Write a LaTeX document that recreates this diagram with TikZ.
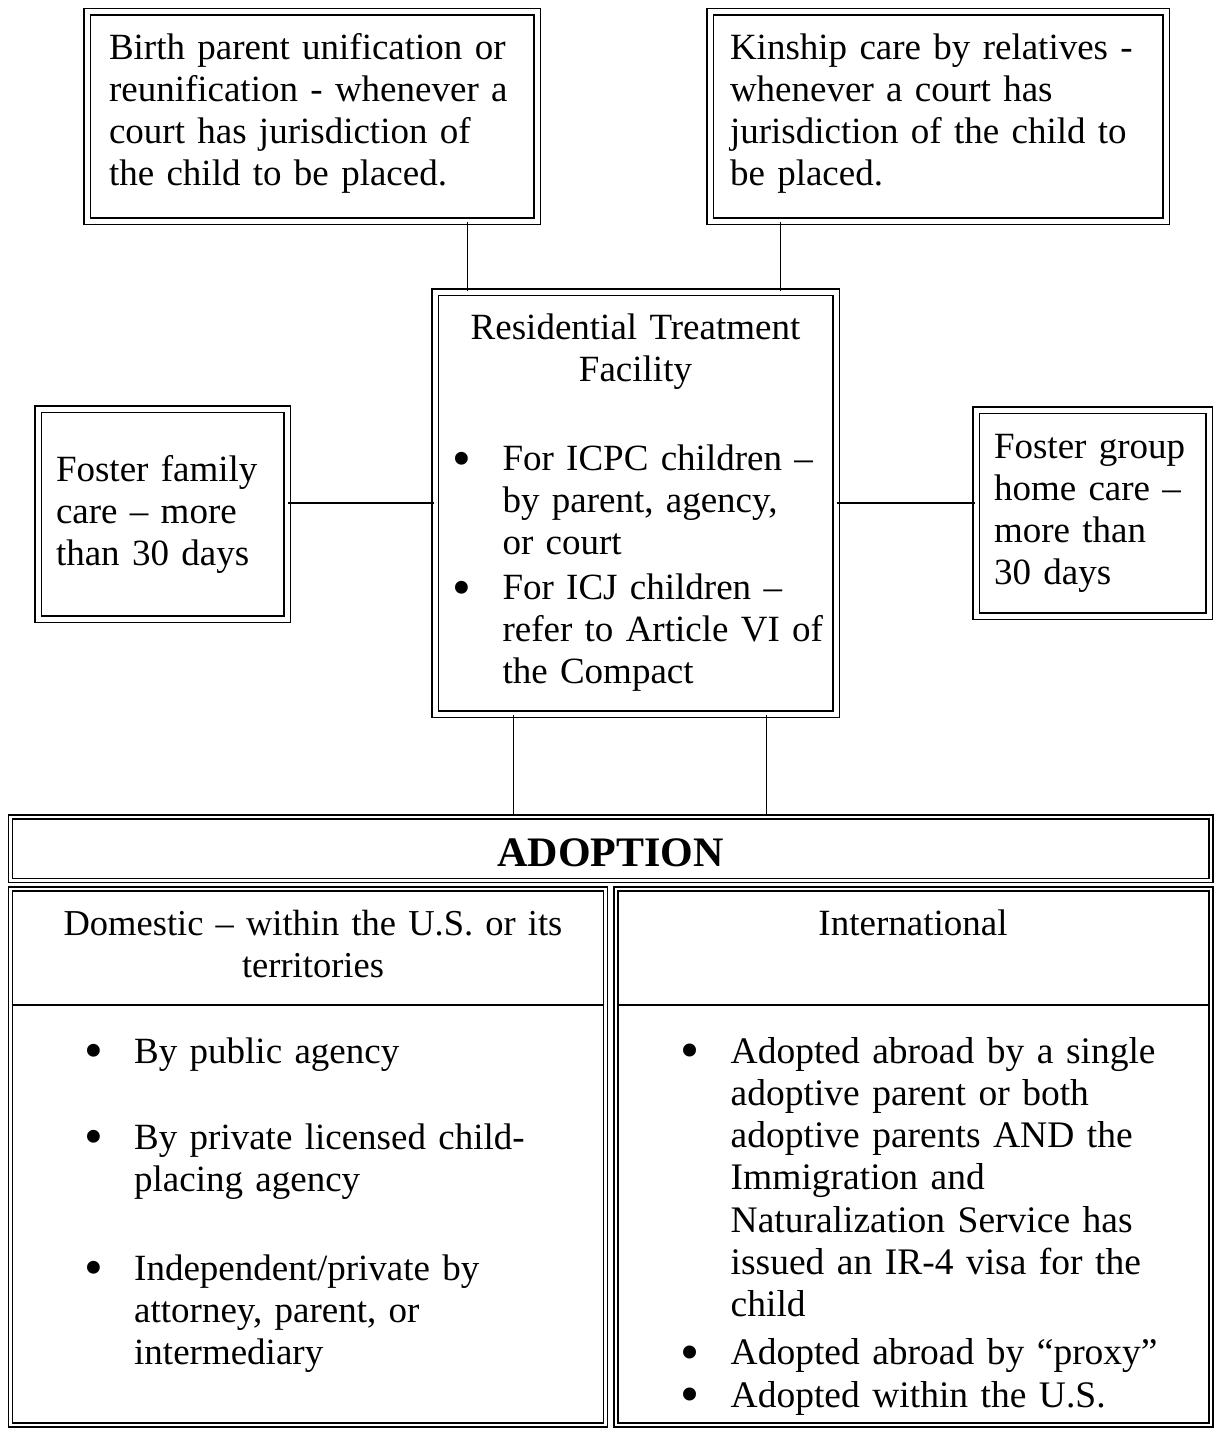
\documentclass[tikz,border=0pt]{standalone}
\usepackage{fontspec}
\setmainfont{Liberation Serif}
\usepackage{tikz}

% bullet and hanging indent for listed items
\newcommand{\bul}[1][0pt]{\hspace*{#1}\makebox[47pt][l]{\makebox[13pt]{\smash{\raisebox{-5.5pt}{\scalebox{1.45}{\textbullet}}}}}}
\newcommand{\ind}[1][0pt]{\hspace*{\dimexpr#1+47pt\relax}}

\begin{document}
\begin{tikzpicture}[x=1pt, y=-1pt,
% common options for the framed boxes:
box/.style = {draw, double, double distance=5pt, line width=1.4pt,
            align=left, inner sep=0, font=\fontsize{37}{42}\selectfont},
% common options for the table cells:
cell/.style = {draw, double, double distance=2.7pt, line width=1.3pt, inner sep=0},
% plain text inside the table:
txt/.style = {inner sep=0, font=\fontsize{37}{42}\selectfont},
link/.style = {line width=1.3pt},
rule/.style = {line width=1.3pt, shorten <=2.5pt, shorten >=2.5pt}]
\useasboundingbox (0,0) rectangle (1216,1429);
\node[box, minimum width=450pt, minimum height=209pt, text width=406pt, text depth=140pt] (birth) at (312,116.5)
  {Birth parent unification or\\reunification - whenever a\\court has jurisdiction of\\the child to be placed.};
\node[box, minimum width=456pt, minimum height=209pt, text width=416pt, text depth=140pt] (kin) at (938,116.5)
  {Kinship care by relatives -\\whenever a court has\\jurisdiction of the child to\\be placed.};
\node[box, minimum width=401pt, minimum height=422pt, text width=390pt] (rtf) at (635.5,503)
  {\makebox[\linewidth]{Residential Treatment}\\
   \makebox[\linewidth]{Facility}\\[47pt]
   \bul[15pt]For ICPC children --\\
   \ind[15pt]by parent, agency,\\
   \ind[15pt]or court\\[3pt]
   \bul[15pt]For ICJ children --\\
   \ind[15pt]refer to Article VI of\\
   \ind[15pt]the Compact};
\node[box, minimum width=249pt, minimum height=210pt, text width=213pt] (ffam) at (162.5,514)
  {Foster family\\care -- more\\than 30 days};
\node[box, minimum width=233pt, minimum height=206pt, text width=197pt] (fgrp) at (1092.5,513)
  {Foster group\\home care --\\more than\\30 days};
% adoption table
\node[cell, minimum width=1200.5pt, minimum height=63.5pt, text height=36pt, text depth=0pt,
      font=\fontsize{42}{48}\selectfont\bfseries] (adopt) at (610.75,848.75) {ADOPTION};
\node[cell, minimum width=595pt, minimum height=536pt] (dom) at (308,1157) {};
\node[cell, minimum width=595pt, minimum height=536pt] (intl) at (913.5,1157) {};
\coordinate (rowline) at (0,1005);
\draw[rule] (dom.west |- rowline) -- (dom.east |- rowline);
\draw[rule] (intl.west |- rowline) -- (intl.east |- rowline);
\node[txt, anchor=base, align=center, text width=560pt, font=\fontsize{36.5}{42}\selectfont] (domhead) at (313,935)
  {Domestic -- within the U.S. or its\\territories};
\node[txt, anchor=base] (intlhead) at (913,935) {International};
\node[txt, anchor=base west, align=left, text width=500pt] (dombody) at (87,1063)
  {\bul By public agency\\[44pt]
   \bul By private licensed child-\\
   \ind placing agency\\[47pt]
   \bul Independent/private by\\
   \ind attorney, parent, or\\
   \ind intermediary};
\node[txt, anchor=base west, align=left, text width=520pt,
      font=\fontsize{37.5}{42.3}\selectfont] (intlbody) at (683.5,1063)
  {\bul Adopted abroad by a single\\
   \ind adoptive parent or both\\
   \ind adoptive parents AND the\\
   \ind Immigration and\\
   \ind Naturalization Service has\\
   \ind issued an IR-4 visa for the\\
   \ind child\\[5.7pt]
   \bul Adopted abroad by ``proxy''\\
   \bul Adopted within the U.S.};
% connectors
\draw[link] ([xshift=33pt]rtf.north west) -- ([xshift=33pt]rtf.north west |- birth.south);
\draw[link] ([xshift=-56pt]rtf.north east) -- ([xshift=-56pt]rtf.north east |- kin.south);
\draw[link] (rtf.west) -- (rtf.west -| ffam.east);
\draw[link] (rtf.east) -- (rtf.east -| fgrp.west);
\draw[link] ([xshift=79pt]rtf.south west) -- ([xshift=79pt]rtf.south west |- adopt.north);
\draw[link] ([xshift=-70pt]rtf.south east) -- ([xshift=-70pt]rtf.south east |- adopt.north);
\end{tikzpicture}
\end{document}
